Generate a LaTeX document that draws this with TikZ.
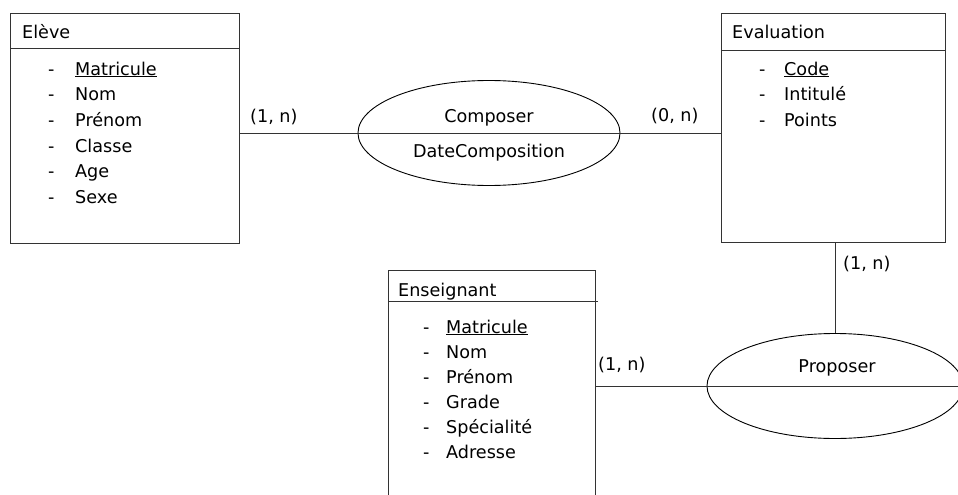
\documentclass[tikz,border=0pt]{standalone}
\usepackage{fontspec}
\setmainfont{DejaVu Sans}
\usetikzlibrary{shapes.geometric}
\begin{document}
\begin{tikzpicture}[x=1pt,y=-1pt,
  box/.style={draw=black!80, line width=0.9pt, rectangle, inner sep=0pt, anchor=north west},
  rel/.style={draw=black, line width=0.9pt, ellipse, inner sep=0pt},
  txt/.style={inner sep=0pt, anchor=base west, font=\fontsize{17.6}{20}\selectfont},
  ctxt/.style={txt, anchor=base},
  link/.style={draw=black!80, line width=0.9pt}]
\useasboundingbox (0,0) rectangle (958,495);
\fill[white] (0,0) rectangle (958,495);
\clip (0,0) rectangle (958,495);

% Eleve
\node[box, minimum width=229pt, minimum height=230pt] (eleve) at (10,13) {};
\coordinate (eleveH) at (10,48);
\draw[link] (eleveH) -- (eleveH -| eleve.east);
\node[txt] (eleveT) at (22,38) {Elève};
\node[txt] (ed1) at (48,75) {-}; \node[txt] (ea1) at (75,75) {\underline{Matricule}};
\node[txt] (ed2) at (48,100) {-}; \node[txt] (ea2) at (75,100) {Nom};
\node[txt] (ed3) at (48,126) {-}; \node[txt] (ea3) at (75,126) {Prénom};
\node[txt] (ed4) at (48,152) {-}; \node[txt] (ea4) at (75,152) {Classe};
\node[txt] (ed5) at (48,177) {-}; \node[txt] (ea5) at (75,177) {Age};
\node[txt] (ed6) at (48,203) {-}; \node[txt] (ea6) at (75,203) {Sexe};

% Evaluation
\node[box, minimum width=224pt, minimum height=229pt] (evaluation) at (721,13) {};
\coordinate (evalH) at (721,50);
\draw[link] (evalH) -- (evalH -| evaluation.east);
\node[txt] (evalT) at (732,38) {Evaluation};
\node[txt] (vd1) at (759,75) {-}; \node[txt] (va1) at (784,75) {\underline{Code}};
\node[txt] (vd2) at (759,100) {-}; \node[txt] (va2) at (784,100) {Intitulé};
\node[txt] (vd3) at (759,126) {-}; \node[txt] (va3) at (784,126) {Points};

% Enseignant
\node[box, minimum width=207pt, minimum height=240pt] (ens) at (388,270) {};
\coordinate (ensH) at (388,301);
\coordinate (ensHe) at (598,301);
\draw[link] (ensH) -- (ensHe);
\node[txt] (ensT) at (398,296) {Enseignant};
\node[txt] (nd1) at (423,333) {-}; \node[txt] (na1) at (446,333) {\underline{Matricule}};
\node[txt] (nd2) at (423,358) {-}; \node[txt] (na2) at (446,358) {Nom};
\node[txt] (nd3) at (423,383) {-}; \node[txt] (na3) at (446,383) {Prénom};
\node[txt] (nd4) at (423,408) {-}; \node[txt] (na4) at (446,408) {Grade};
\node[txt] (nd5) at (423,433) {-}; \node[txt] (na5) at (446,433) {Spécialité};
\node[txt] (nd6) at (423,458) {-}; \node[txt] (na6) at (446,458) {Adresse};

% Composer
\node[rel, minimum width=262pt, minimum height=105pt] (composer) at (489,133) {};
\draw[link] (eleve.east |- composer.center) -- (evaluation.west |- composer.center);
\node[ctxt] (compT) at (489,122) {Composer};
\node[ctxt] (compA) at (489,157) {DateComposition};
\node[txt] (c1) at (250,122) {(1, n)};
\node[txt] (c2) at (651,121) {(0, n)};

% Proposer
\node[rel, minimum width=256pt, minimum height=105pt] (proposer) at (835,386) {};
\coordinate (rightEnd) at (970,386);
\draw[link] (ens.east |- proposer.center) -- (rightEnd);
\draw[link] (evaluation.south -| proposer.north) -- (proposer.north);
\node[ctxt] (propT) at (837,372) {Proposer};
\node[txt] (p1) at (598,370) {(1, n)};
\node[txt] (p2) at (843,269) {(1, n)};
\end{tikzpicture}
\end{document}
